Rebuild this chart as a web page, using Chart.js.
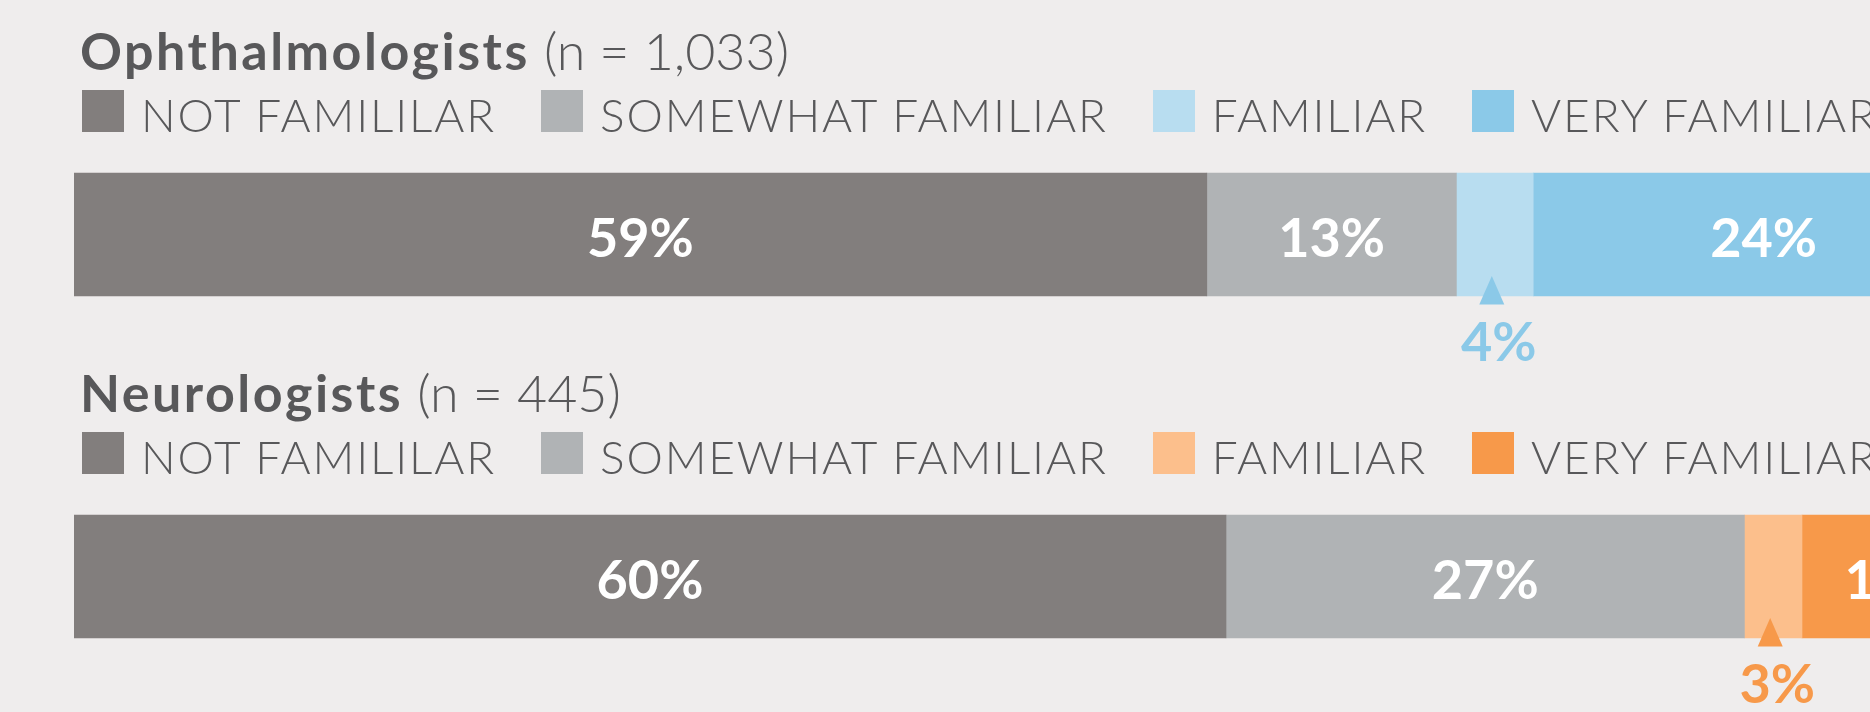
<!DOCTYPE html>
<html>
<head>
<meta charset="utf-8">
<script src="https://cdn.jsdelivr.net/npm/chart.js@4/dist/chart.umd.min.js"></script>
<style>
  html, body { margin:0; padding:0; background:#EFEDED; overflow:hidden; width:1870px; height:712px; }
  #wrap { position:relative; width:2068px; height:760px; }
  #chart { position:absolute; left:0; top:0; }
  .title { position:absolute; left:80px; white-space:nowrap; font-family:Lato, "Open Sans", sans-serif; font-size:52px; line-height:1.2; color:#58585A; }
  .title b { font-weight:700; letter-spacing:2.5px; }
  .title span { font-weight:300; }
  .legend { position:absolute; left:82px; white-space:nowrap; font-family:Lato, "Open Sans", sans-serif; font-weight:300; font-size:46px; line-height:1.2; color:#58585A; letter-spacing:1.85px; }
  .item { display:inline-block; margin-right:45px; }
  .box { display:inline-block; width:42px; height:42px; margin-right:17px; vertical-align:baseline; }
</style>
</head>
<body>
<div id="wrap">
  <canvas id="chart" width="2068" height="760"></canvas>
</div>
<script>
// ---- data ----
const groups = ['Ophthalmologists', 'Neurologists'];
const groupCounts = ['1,033', '445'];
const seriesNames = ['NOT FAMILILAR', 'SOMEWHAT FAMILIAR', 'FAMILIAR', 'VERY FAMILIAR'];
const notFamiliar = [59, 60];
const somewhatFamiliar = [13, 27];
const familiar = [4, 3];
const veryFamiliar = [24, 10];

// ---- styles ----
const seriesColors = [
  ['#827E7D', '#827E7D'],
  ['#B0B3B5', '#B0B3B5'],
  ['#B8DDF0', '#FCBF8C'],
  ['#8BC9E8', '#F7994A']
];
const accentColors = ['#8BC9E8', '#F7994A'];
const panelTop = [0, 342];

// ---- HTML titles & legends ----
const wrap = document.getElementById('wrap');
groups.forEach((g, gi) => {
  const t = document.createElement('div');
  t.className = 'title';
  t.style.top = (19.4 + panelTop[gi]) + 'px';
  t.innerHTML = '<b>' + g + '</b><span> (n = ' + groupCounts[gi] + ')</span>';
  wrap.appendChild(t);
  const lg = document.createElement('div');
  lg.className = 'legend';
  lg.style.top = (87.3 + panelTop[gi]) + 'px';
  seriesNames.forEach((s, si) => {
    const it = document.createElement('span');
    it.className = 'item';
    const bx = document.createElement('span');
    bx.className = 'box';
    bx.style.background = seriesColors[si][gi];
    it.appendChild(bx);
    it.appendChild(document.createTextNode(s));
    lg.appendChild(it);
  });
  wrap.appendChild(lg);
});

// ---- value label plugin ----
const valueLabels = {
  id: 'valueLabels',
  afterDatasetsDraw(chart) {
    const ctx = chart.ctx;
    ctx.save();
    chart.data.datasets.forEach((ds, di) => {
      const meta = chart.getDatasetMeta(di);
      meta.data.forEach((el, i) => {
        const v = ds.data[i];
        const p = el.getProps(['x', 'y', 'base', 'height'], true);
        const cx = (p.x + p.base) / 2;
        const bottom = p.y + p.height / 2;
        const text = v + '%';
        ctx.font = '700 54px Lato, "Open Sans", sans-serif';
        ctx.textAlign = 'center';
        ctx.textBaseline = 'alphabetic';
        if (v >= 6) {
          ctx.fillStyle = '#FFFFFF';
          ctx.fillText(text, cx, p.y + 22.5);
        } else {
          const c = accentColors[i];
          ctx.fillStyle = c;
          ctx.beginPath();
          ctx.moveTo(cx - 3, bottom - 20);
          ctx.lineTo(cx - 3 + 12.5, bottom + 8.5);
          ctx.lineTo(cx - 3 - 12.5, bottom + 8.5);
          ctx.closePath();
          ctx.fill();
          ctx.fillText(text, cx + 4, bottom + 64.5);
        }
      });
    });
    ctx.restore();
  }
};

const seriesData = [notFamiliar, somewhatFamiliar, familiar, veryFamiliar];

new Chart(document.getElementById('chart'), {
  type: 'bar',
  data: {
    labels: groups,
    datasets: seriesNames.map((name, si) => ({
      label: name,
      data: seriesData[si],
      backgroundColor: seriesColors[si],
      borderWidth: 0,
      barThickness: 123,
      stack: 'all'
    }))
  },
  options: {
    indexAxis: 'y',
    responsive: false,
    animation: false,
    layout: { padding: { left: 74, right: 74, top: 63.5, bottom: 12.5 } },
    scales: {
      x: { stacked: true, min: 0, max: 100, display: false },
      y: { stacked: true, display: false }
    },
    plugins: {
      legend: { display: false },
      tooltip: { enabled: false },
      title: { display: false }
    }
  },
  plugins: [valueLabels]
});
</script>
</body>
</html>
